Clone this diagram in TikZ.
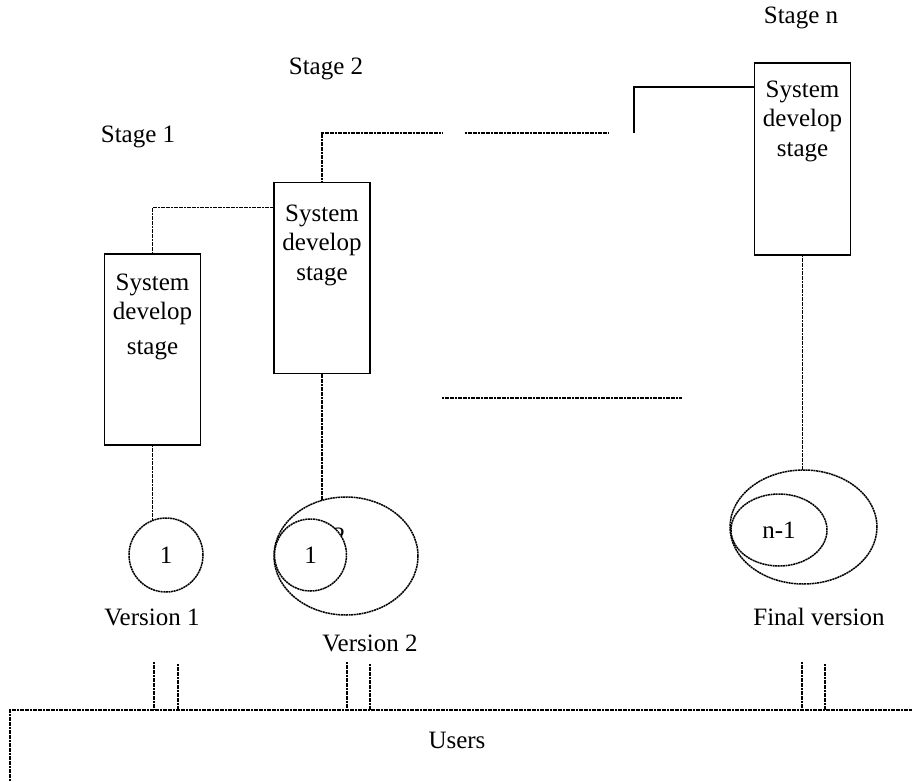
\documentclass[tikz,border=0pt]{standalone}
\usepackage{fontspec}
\setmainfont{Liberation Serif}
\usetikzlibrary{shapes.geometric,calc}
\begin{document}
\begin{tikzpicture}[x=1pt,y=-1pt,
  every node/.style={font=\fontsize{25}{29}\selectfont, inner sep=0pt, outer sep=0pt},
  dl/.style={line width=1.5pt, dash pattern=on 2pt off 0.6pt},
  sl/.style={line width=1.4pt},
  stagebox/.style={draw, line width=1.4pt, minimum width=96pt, minimum height=191pt},
  txt/.style={anchor=base},
  circ/.style={draw, dl, circle},
  ell/.style={draw, dl, ellipse}]
\path[use as bounding box] (0,0) rectangle (912,781);

% boxes
\node[stagebox] (b1) at (152.5,349.5) {};
\node[stagebox] (b2) at (322,278) {};
\node[stagebox, minimum height=192pt] (b3) at (802.5,159) {};

\node[txt] (b1a) at (152.5,290) {System};
\node[txt] (b1b) at (152.5,319) {develop};
\node[txt] (b1c) at (152.5,354) {stage};
\node[txt] (b2a) at (322,221) {System};
\node[txt] (b2b) at (322,250) {develop};
\node[txt] (b2c) at (322,280) {stage};
\node[txt] (b3a) at (802.5,98) {System};
\node[txt] (b3b) at (802.5,127) {develop};
\node[txt] (b3c) at (802.5,156) {stage};

% stage labels
\node (s1) at (138,137) {Stage 1};
\node (s2) at (326,69) {Stage 2};
\node (sn) at (801,18) {Stage n};

% versions
\node[circ, minimum size=74pt] (v1) at (166,555) {1};
\node (two) at (339,536) {2};
\node[ell, minimum width=144pt, minimum height=118pt] (v2o) at (346,556) {};
\node[circ, fill=white, minimum size=72pt] (v2i) at (310.5,555) {1};
\node[ell, minimum width=147pt, minimum height=114pt] (v3o) at (803.5,527) {};
\node[ell, minimum width=96pt, minimum height=72pt] (v3i) at (779,530) {n-1};

\node (l1) at (152,617) {Version 1};
\node (l2) at (370,643) {Version 2};
\node (l3) at (819,617) {Final version};

% top connectors
\draw[dl] (b1.north) |- ($(b2.north west)+(0,25)$);
\coordinate (c1) at (442,133);
\coordinate (c2) at (465,133);
\coordinate (c3) at (609,133);
\coordinate (c4) at (634,133);
\draw[dl] (b2.north) |- (c1);
\draw[dl] (c2) -- (c3);
\draw[sl] (c4) |- ($(b3.north west)+(0,24)$);

% middle dotted line
\coordinate (m1) at (442,398);
\coordinate (m2) at (682,398);
\draw[dl] (m1) -- (m2);

% box to version connectors
\draw[dl] (b1.south) -- (b1.south |- v1.111);
\draw[dl] (b2.south) -- (b2.south |- v2o.113);
\draw[dl] (b3.south) -- (b3.south |- v3o.north);

% users
\coordinate (uL) at (10,781);
\coordinate (uC) at (10,710);
\coordinate (uR) at (912,710);
\draw[dl] (uL) -- (uC) -- (uR);
\node (users) at (457,740) {Users};

\foreach \x/\t in {154/662,178/664,347/662,370/664,802/662,825/664}{
  \coordinate (d\x a) at (\x,\t);
  \coordinate (d\x b) at (\x,710);
  \draw[dl] (d\x a) -- (d\x b);
}
\end{tikzpicture}
\end{document}
